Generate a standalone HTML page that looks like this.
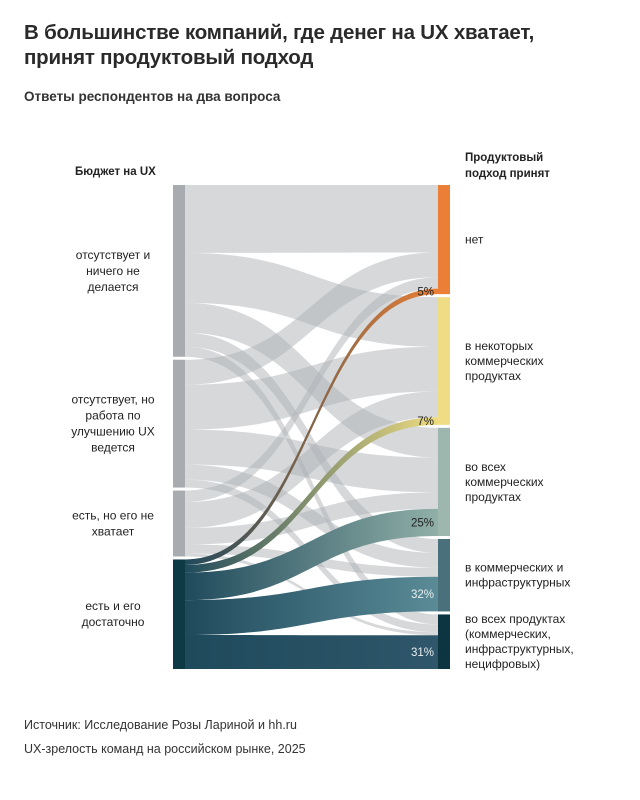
<!DOCTYPE html>
<html><head><meta charset="utf-8">
<style>
body{margin:0;background:#fff;font-family:"Liberation Sans","Noto Sans CJK SC",sans-serif;color:#222;}
#wrap{position:relative;width:640px;height:800px;overflow:hidden;}
.t{position:absolute;left:24px;font-weight:bold;font-size:20.5px;line-height:25px;color:#2a2a2a;letter-spacing:-0.2px}
.sub{position:absolute;left:24px;top:89px;font-weight:bold;font-size:13.5px;color:#333}
.src{position:absolute;left:24px;font-size:12.5px;color:#333}
svg text{font-family:"Liberation Sans",sans-serif;}
</style></head><body>
<div id="wrap">
<div class="t" style="top:20px">В большинстве компаний, где денег на UX хватает,<br>принят продуктовый подход</div>
<div class="sub">Ответы респондентов на два вопроса</div>
<div class="src" style="top:718px">Источник: Исследование Розы Лариной и hh.ru</div>
<div class="src" style="top:742px">UX-зрелость команд на российском рынке, 2025</div>
<svg id="sv" width="640" height="800" style="position:absolute;left:0;top:0"></svg>
</div>
<script>
const sources = ["отсутствует и\nничего не\nделается","отсутствует, но\nработа по\nулучшению UX\nведется","есть, но его не\nхватает","есть и его\nдостаточно"];
const targets = ["нет","в  некоторых\nкоммерческих\nпродуктах","во всех\nкоммерческих\nпродуктах","в коммерческих и\nинфраструктурных","во всех продуктах\n(коммерческих,\nинфраструктурных,\nнецифровых)"];
const flowsS1 = [68, 50, 30, 14, 10];
const flowsS2 = [25, 45, 35, 15, 8];
const flowsS3 = [11.5, 26, 16.5, 9, 3];
const flowsS4 = [5.5, 7.7, 27.5, 35, 34];
const pctLabels = ["5%","7%","25%","32%","31%"];
const targetColors = ["#ec7f38","#efdd86","#9db6ae","#4a707b","#0d3541"];
const linkEndColors = ["#ea7f36","#eedb80","#90afa7","#5b8b97","#2f566a"];
const flows = [flowsS1, flowsS2, flowsS3, flowsS4];

const NS="http://www.w3.org/2000/svg";
const sv=document.getElementById('sv');
function mk(tag,attrs,parent){const e=document.createElementNS(NS,tag);for(const k in attrs)e.setAttribute(k,attrs[k]);(parent||sv).appendChild(e);return e;}
const top0=185, bottom0=669, gap=3, xL=173, nodeW=12, xR=438;
const srcTot=flows.map(r=>r.reduce((a,b)=>a+b,0));
const tgtTot=targets.map((_,j)=>flows.reduce((a,r)=>a+r[j],0));
const total=srcTot.reduce((a,b)=>a+b,0);
const kS=(bottom0-top0-gap*(sources.length-1))/total;
const kT=(bottom0-top0-gap*(targets.length-1))/total;
let y=top0; const sY=srcTot.map(v=>{const r=y;y+=v*kS+gap;return r;});
y=top0; const tY=tgtTot.map(v=>{const r=y;y+=v*kT+gap;return r;});
const defs=mk('defs',{});
const x0=xL+nodeW, x1=xR, xm=(x0+x1)/2;
const sOff=sY.slice(), tOff=tY.slice();
const links=[];
flows.forEach((row,i)=>row.forEach((v,j)=>{
  const hs=v*kS, ht=v*kT;
  links.push({i,j,a:sOff[i],b:tOff[j],hs,ht});
  sOff[i]+=hs; tOff[j]+=ht;
}));
links.sort((p,q)=>(p.i===3)-(q.i===3));
links.forEach(l=>{
  const d=`M${x0},${l.a} C${xm},${l.a} ${xm},${l.b} ${x1},${l.b} L${x1},${l.b+l.ht} C${xm},${l.b+l.ht} ${xm},${l.a+l.hs} ${x0},${l.a+l.hs} Z`;
  let fill="#adb1b5", op="0.5";
  if(l.i===3){
    const g=mk('linearGradient',{id:'g'+l.j,x1:x0,x2:x1,y1:0,y2:0,gradientUnits:'userSpaceOnUse'},defs);
    mk('stop',{offset:'0',"stop-color":'#1f4a5c'},g);
    mk('stop',{offset:'1',"stop-color":linkEndColors[l.j]},g);
    fill='url(#g'+l.j+')'; op="1";
  }
  const p=mk('path',{d,fill,"fill-opacity":op});
  
  
});
sources.forEach((s,i)=>{
  const r=mk('rect',{x:xL,y:sY[i],width:nodeW,height:srcTot[i]*kS,fill:i===3?'#0d3a45':'#a8abaf'});
  
  
  const lines=s.split('\n');const cy=sY[i]+srcTot[i]*kS/2;
  const t=mk('text',{x:113,"text-anchor":"middle","font-size":12,fill:'#222'});
  
  
  lines.forEach((ln,k)=>{const ts=mk('tspan',{x:113,y:cy-(lines.length-1)*8+k*16+4},t);ts.textContent=ln;});
});
targets.forEach((s,j)=>{
  const h=tgtTot[j]*kT;
  const r=mk('rect',{x:xR,y:tY[j],width:nodeW,height:h,fill:targetColors[j]});
  
  
  const lines=s.split('\n');const cy=tY[j]+h/2;
  const t=mk('text',{x:465,"font-size":12,fill:'#222'});
  
  
  lines.forEach((ln,k)=>{const ts=mk('tspan',{x:465,y:cy-(lines.length-1)*7.5+k*15+4},t);ts.textContent=ln;});
  const pl=links.find(l=>l.i===3&&l.j===j);
  const pt=mk('text',{x:434,y:pl.b+pl.ht/2+4,"text-anchor":"end","font-size":11.5,fill:j>=3?'#e8eef0':'#222'});
  pt.textContent=pctLabels[j];
  
  
});
const h1=mk('text',{x:75,y:175,"font-size":11.5,"font-weight":"bold",fill:'#222'});h1.textContent="Бюджет на UX";


const h2=mk('text',{x:465,"font-size":11.5,"font-weight":"bold",fill:'#222'});


[["Продуктовый",161],["подход принят",177]].forEach(([s,yy])=>{const ts=mk('tspan',{x:465,y:yy},h2);ts.textContent=s;});
</script>
</body></html>
